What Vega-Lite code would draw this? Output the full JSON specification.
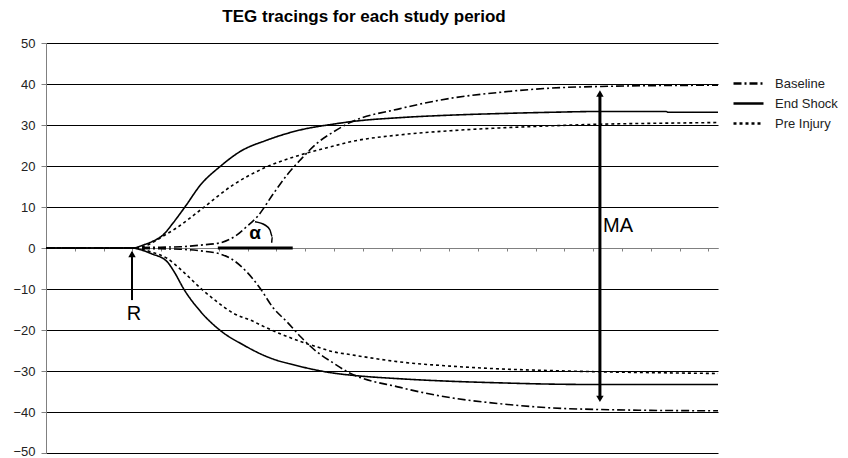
{
  "$schema": "https://vega.github.io/schema/vega-lite/v6.json",
  "width": 672,
  "height": 410,
  "autosize": {"type": "none"},
  "padding": {"left": 46, "top": 43, "right": 130, "bottom": 5},
  "background": "white",
  "view": {"stroke": null},
  "title": {
    "text": "TEG tracings for each study period",
    "font": "Liberation Sans",
    "fontSize": 17,
    "fontWeight": "bold",
    "color": "black",
    "anchor": "middle",
    "frame": "group",
    "baseline": "alphabetic",
    "offset": -2,
    "dx": -18
  },
  "datasets": {
    "curves": [
      {"series": "End Shock", "half": "upper", "x": 0, "y": 0},
      {"series": "End Shock", "half": "upper", "x": 9, "y": 0},
      {"series": "End Shock", "half": "upper", "x": 9.5, "y": 0.2},
      {"series": "End Shock", "half": "upper", "x": 10.1, "y": 0.7},
      {"series": "End Shock", "half": "upper", "x": 11, "y": 1.5},
      {"series": "End Shock", "half": "upper", "x": 12.2, "y": 3.2},
      {"series": "End Shock", "half": "upper", "x": 13.3, "y": 6.3},
      {"series": "End Shock", "half": "upper", "x": 14.5, "y": 10.1},
      {"series": "End Shock", "half": "upper", "x": 16.1, "y": 15.4},
      {"series": "End Shock", "half": "upper", "x": 18.2, "y": 20},
      {"series": "End Shock", "half": "upper", "x": 20.2, "y": 23.5},
      {"series": "End Shock", "half": "upper", "x": 23, "y": 26.3},
      {"series": "End Shock", "half": "upper", "x": 26.5, "y": 28.8},
      {"series": "End Shock", "half": "upper", "x": 29.9, "y": 30.2},
      {"series": "End Shock", "half": "upper", "x": 31.7, "y": 30.8},
      {"series": "End Shock", "half": "upper", "x": 36.9, "y": 31.8},
      {"series": "End Shock", "half": "upper", "x": 42.1, "y": 32.4},
      {"series": "End Shock", "half": "upper", "x": 47.4, "y": 32.8},
      {"series": "End Shock", "half": "upper", "x": 52.6, "y": 33.1},
      {"series": "End Shock", "half": "upper", "x": 57.8, "y": 33.3},
      {"series": "End Shock", "half": "upper", "x": 64.6, "y": 33.3},
      {"series": "End Shock", "half": "upper", "x": 64.8, "y": 33.1},
      {"series": "End Shock", "half": "upper", "x": 70, "y": 33.1},
      {"series": "End Shock", "half": "lower", "x": 0, "y": 0},
      {"series": "End Shock", "half": "lower", "x": 9, "y": 0},
      {"series": "End Shock", "half": "lower", "x": 9.5, "y": -0.2},
      {"series": "End Shock", "half": "lower", "x": 10.1, "y": -0.6},
      {"series": "End Shock", "half": "lower", "x": 11, "y": -1.4},
      {"series": "End Shock", "half": "lower", "x": 12.6, "y": -3.3},
      {"series": "End Shock", "half": "lower", "x": 13.4, "y": -6.0},
      {"series": "End Shock", "half": "lower", "x": 14.3, "y": -9.8},
      {"series": "End Shock", "half": "lower", "x": 16.1, "y": -15.5},
      {"series": "End Shock", "half": "lower", "x": 18.2, "y": -20.2},
      {"series": "End Shock", "half": "lower", "x": 20.6, "y": -23.7},
      {"series": "End Shock", "half": "lower", "x": 23, "y": -26.5},
      {"series": "End Shock", "half": "lower", "x": 26.5, "y": -28.9},
      {"series": "End Shock", "half": "lower", "x": 29.9, "y": -30.5},
      {"series": "End Shock", "half": "lower", "x": 31.7, "y": -31.0},
      {"series": "End Shock", "half": "lower", "x": 36.9, "y": -31.9},
      {"series": "End Shock", "half": "lower", "x": 42.1, "y": -32.5},
      {"series": "End Shock", "half": "lower", "x": 47.4, "y": -32.9},
      {"series": "End Shock", "half": "lower", "x": 52.6, "y": -33.2},
      {"series": "End Shock", "half": "lower", "x": 57.8, "y": -33.3},
      {"series": "End Shock", "half": "lower", "x": 70, "y": -33.3},
      {"series": "Pre Injury", "half": "upper", "x": 0, "y": 0},
      {"series": "Pre Injury", "half": "upper", "x": 9.3, "y": 0},
      {"series": "Pre Injury", "half": "upper", "x": 10, "y": 0.3},
      {"series": "Pre Injury", "half": "upper", "x": 11, "y": 1.2},
      {"series": "Pre Injury", "half": "upper", "x": 12.2, "y": 2.9},
      {"series": "Pre Injury", "half": "upper", "x": 13.6, "y": 4.9},
      {"series": "Pre Injury", "half": "upper", "x": 16.1, "y": 9.3},
      {"series": "Pre Injury", "half": "upper", "x": 19.5, "y": 15.4},
      {"series": "Pre Injury", "half": "upper", "x": 23, "y": 19.8},
      {"series": "Pre Injury", "half": "upper", "x": 26.5, "y": 22.7},
      {"series": "Pre Injury", "half": "upper", "x": 30, "y": 24.9},
      {"series": "Pre Injury", "half": "upper", "x": 31.7, "y": 25.9},
      {"series": "Pre Injury", "half": "upper", "x": 36.9, "y": 27.6},
      {"series": "Pre Injury", "half": "upper", "x": 42.1, "y": 28.6},
      {"series": "Pre Injury", "half": "upper", "x": 47.4, "y": 29.3},
      {"series": "Pre Injury", "half": "upper", "x": 52.6, "y": 29.8},
      {"series": "Pre Injury", "half": "upper", "x": 57.8, "y": 30.2},
      {"series": "Pre Injury", "half": "upper", "x": 63, "y": 30.4},
      {"series": "Pre Injury", "half": "upper", "x": 70, "y": 30.6},
      {"series": "Pre Injury", "half": "lower", "x": 0, "y": 0},
      {"series": "Pre Injury", "half": "lower", "x": 9.3, "y": 0},
      {"series": "Pre Injury", "half": "lower", "x": 10, "y": -0.3},
      {"series": "Pre Injury", "half": "lower", "x": 11, "y": -1.0},
      {"series": "Pre Injury", "half": "lower", "x": 12.6, "y": -2.5},
      {"series": "Pre Injury", "half": "lower", "x": 14.3, "y": -5.8},
      {"series": "Pre Injury", "half": "lower", "x": 16.1, "y": -9.8},
      {"series": "Pre Injury", "half": "lower", "x": 17.8, "y": -13.1},
      {"series": "Pre Injury", "half": "lower", "x": 19.5, "y": -15.9},
      {"series": "Pre Injury", "half": "lower", "x": 21.3, "y": -17.6},
      {"series": "Pre Injury", "half": "lower", "x": 23, "y": -19.5},
      {"series": "Pre Injury", "half": "lower", "x": 24.7, "y": -21.2},
      {"series": "Pre Injury", "half": "lower", "x": 26.5, "y": -22.8},
      {"series": "Pre Injury", "half": "lower", "x": 28.2, "y": -24.1},
      {"series": "Pre Injury", "half": "lower", "x": 29.9, "y": -25.3},
      {"series": "Pre Injury", "half": "lower", "x": 31.7, "y": -26.0},
      {"series": "Pre Injury", "half": "lower", "x": 36.9, "y": -27.8},
      {"series": "Pre Injury", "half": "lower", "x": 42.1, "y": -28.8},
      {"series": "Pre Injury", "half": "lower", "x": 47.4, "y": -29.5},
      {"series": "Pre Injury", "half": "lower", "x": 52.6, "y": -29.9},
      {"series": "Pre Injury", "half": "lower", "x": 57.8, "y": -30.2},
      {"series": "Pre Injury", "half": "lower", "x": 63, "y": -30.4},
      {"series": "Pre Injury", "half": "lower", "x": 70, "y": -30.6},
      {"series": "Baseline", "half": "upper", "x": 0, "y": 0},
      {"series": "Baseline", "half": "upper", "x": 9, "y": 0},
      {"series": "Baseline", "half": "upper", "x": 9.8, "y": 0.1},
      {"series": "Baseline", "half": "upper", "x": 14, "y": 0.3},
      {"series": "Baseline", "half": "upper", "x": 16.1, "y": 0.7},
      {"series": "Baseline", "half": "upper", "x": 18.2, "y": 1.3},
      {"series": "Baseline", "half": "upper", "x": 19.9, "y": 3.2},
      {"series": "Baseline", "half": "upper", "x": 20.9, "y": 5.2},
      {"series": "Baseline", "half": "upper", "x": 22, "y": 7.6},
      {"series": "Baseline", "half": "upper", "x": 23.7, "y": 13.3},
      {"series": "Baseline", "half": "upper", "x": 25.1, "y": 17.8},
      {"series": "Baseline", "half": "upper", "x": 26.5, "y": 21.5},
      {"series": "Baseline", "half": "upper", "x": 28.2, "y": 25.5},
      {"series": "Baseline", "half": "upper", "x": 30, "y": 28.4},
      {"series": "Baseline", "half": "upper", "x": 31.5, "y": 30.4},
      {"series": "Baseline", "half": "upper", "x": 36.9, "y": 34},
      {"series": "Baseline", "half": "upper", "x": 42.1, "y": 36.5},
      {"series": "Baseline", "half": "upper", "x": 47.4, "y": 38},
      {"series": "Baseline", "half": "upper", "x": 52.6, "y": 39},
      {"series": "Baseline", "half": "upper", "x": 57.8, "y": 39.4},
      {"series": "Baseline", "half": "upper", "x": 63, "y": 39.6},
      {"series": "Baseline", "half": "upper", "x": 70, "y": 39.7},
      {"series": "Baseline", "half": "lower", "x": 0, "y": 0},
      {"series": "Baseline", "half": "lower", "x": 9, "y": 0},
      {"series": "Baseline", "half": "lower", "x": 9.8, "y": -0.1},
      {"series": "Baseline", "half": "lower", "x": 14, "y": -0.3},
      {"series": "Baseline", "half": "lower", "x": 16.1, "y": -0.7},
      {"series": "Baseline", "half": "lower", "x": 18.2, "y": -1.5},
      {"series": "Baseline", "half": "lower", "x": 19.2, "y": -2.5},
      {"series": "Baseline", "half": "lower", "x": 20.9, "y": -5.8},
      {"series": "Baseline", "half": "lower", "x": 22.3, "y": -9.8},
      {"series": "Baseline", "half": "lower", "x": 23.7, "y": -14.7},
      {"series": "Baseline", "half": "lower", "x": 25.1, "y": -18},
      {"series": "Baseline", "half": "lower", "x": 26.5, "y": -21.6},
      {"series": "Baseline", "half": "lower", "x": 28.2, "y": -25.3},
      {"series": "Baseline", "half": "lower", "x": 29.9, "y": -28},
      {"series": "Baseline", "half": "lower", "x": 31.4, "y": -30.2},
      {"series": "Baseline", "half": "lower", "x": 36.9, "y": -34},
      {"series": "Baseline", "half": "lower", "x": 42.1, "y": -36.5},
      {"series": "Baseline", "half": "lower", "x": 47.4, "y": -38},
      {"series": "Baseline", "half": "lower", "x": 52.6, "y": -39},
      {"series": "Baseline", "half": "lower", "x": 57.8, "y": -39.4},
      {"series": "Baseline", "half": "lower", "x": 63, "y": -39.6},
      {"series": "Baseline", "half": "lower", "x": 70, "y": -39.7}
    ],
    "zeroSeg": [{"x": 17.9, "x2": 25.7, "y": 0}],
    "rArrow": [{"x": 8.96, "y": -12.7, "y2": -1.0}],
    "maArrow": [{"x": 57.7, "y": 37.6, "y2": -36.7}],
    "headsUp": [{"x": 8.96, "y": -1.45}, {"x": 57.7, "y": 37.7}],
    "headsDown": [{"x": 57.7, "y": -36.8}],
    "arc": [
      {"i": 1, "x": 21.77, "y": 6.41},
      {"i": 2, "x": 22.81, "y": 5.61},
      {"i": 3, "x": 23.33, "y": 4.39},
      {"i": 4, "x": 23.57, "y": 2.76},
      {"i": 5, "x": 23.51, "y": 1.29}
    ],
    "plainLabels": [
      {"label": "R", "x": 9.17, "y": -15.98},
      {"label": "MA", "x": 59.58, "y": 5.37}
    ],
    "alphaLabel": [{"label": "α", "x": 21.77, "y": 3.66}]
  },
  "encoding": {
    "x": {
      "field": "x", "type": "quantitative",
      "scale": {"domain": [0, 70], "nice": false, "zero": false},
      "axis": {
        "title": null,
        "values": [0, 3, 6, 9, 12, 15, 18, 21, 24, 27, 30, 33, 36, 39, 42, 45, 48, 51, 54, 57, 60, 63, 66, 69],
        "labels": false,
        "grid": false,
        "offset": -205,
        "tickSize": 3,
        "tickColor": "#808080",
        "domainColor": "#808080",
        "domainWidth": 1
      }
    },
    "y": {
      "field": "y", "type": "quantitative",
      "scale": {"domain": [-50, 50], "nice": false},
      "axis": {
        "title": null,
        "values": [-50, -40, -30, -20, -10, 0, 10, 20, 30, 40, 50],
        "grid": true,
        "gridColor": {"condition": {"test": "datum.value === 0", "value": "#808080"}, "value": "#000000"},
        "gridOpacity": 1,
        "gridWidth": 1,
        "tickSize": 5,
        "tickColor": "#808080",
        "domainColor": "#808080",
        "labelFont": "Liberation Sans",
        "labelFontSize": 13,
        "labelOffset": {"condition": {"test": "datum.value === -50", "value": -2}, "value": 0},
        "labelColor": "#222222",
        "labelPadding": 6,
        "labelFlush": false
      }
    }
  },
  "layer": [
    {
      "data": {"name": "curves"},
      "mark": {"type": "line", "color": "black", "strokeWidth": 1.6, "interpolate": "monotone"},
      "encoding": {
        "detail": {"field": "half", "type": "nominal"},
        "strokeDash": {
          "field": "series", "type": "nominal",
          "scale": {"domain": ["Baseline", "End Shock", "Pre Injury"], "range": [[8, 3, 2, 3], [1, 0], [3, 3]]},
          "legend": {
            "title": null,
            "orient": "none",
            "legendX": 696,
            "legendY": 34,
            "padding": 0,
            "symbolType": "M-3,0H3",
            "symbolSize": 100,
            "symbolStrokeWidth": 2.5,
            "symbolStrokeColor": "black",
            "labelFont": "Liberation Sans",
            "labelFontSize": 13,
            "labelColor": "#222222",
            "labelOffset": 20,
            "rowPadding": 6
          }
        }
      }
    },
    {
      "data": {"name": "zeroSeg"},
      "mark": {"type": "rule", "color": "black", "strokeWidth": 3},
      "encoding": {
        "x2": {"field": "x2"}
      }
    },
    {
      "data": {"name": "rArrow"},
      "mark": {"type": "rule", "color": "black", "strokeWidth": 2},
      "encoding": {
        "y2": {"field": "y2"}
      }
    },
    {
      "data": {"name": "maArrow"},
      "mark": {"type": "rule", "color": "black", "strokeWidth": 3},
      "encoding": {
        "y2": {"field": "y2"}
      }
    },
    {
      "data": {"name": "headsUp"},
      "mark": {"type": "point", "shape": "triangle-up", "filled": true, "color": "black", "opacity": 1, "size": 55}
    },
    {
      "data": {"name": "headsDown"},
      "mark": {"type": "point", "shape": "triangle-down", "filled": true, "color": "black", "opacity": 1, "size": 55}
    },
    {
      "data": {"name": "arc"},
      "mark": {"type": "line", "color": "black", "strokeWidth": 1.5, "interpolate": "monotone"},
      "encoding": {
        "order": {"field": "i", "type": "quantitative"}
      }
    },
    {
      "data": {"name": "plainLabels"},
      "mark": {"type": "text", "font": "Liberation Sans", "fontSize": 20, "align": "center", "baseline": "middle", "color": "black"},
      "encoding": {
        "text": {"field": "label", "type": "nominal"}
      }
    },
    {
      "data": {"name": "alphaLabel"},
      "mark": {"type": "text", "font": "Liberation Sans", "fontSize": 19, "fontWeight": "bold", "align": "center", "baseline": "middle", "color": "black"},
      "encoding": {
        "text": {"field": "label", "type": "nominal"}
      }
    }
  ]
}
